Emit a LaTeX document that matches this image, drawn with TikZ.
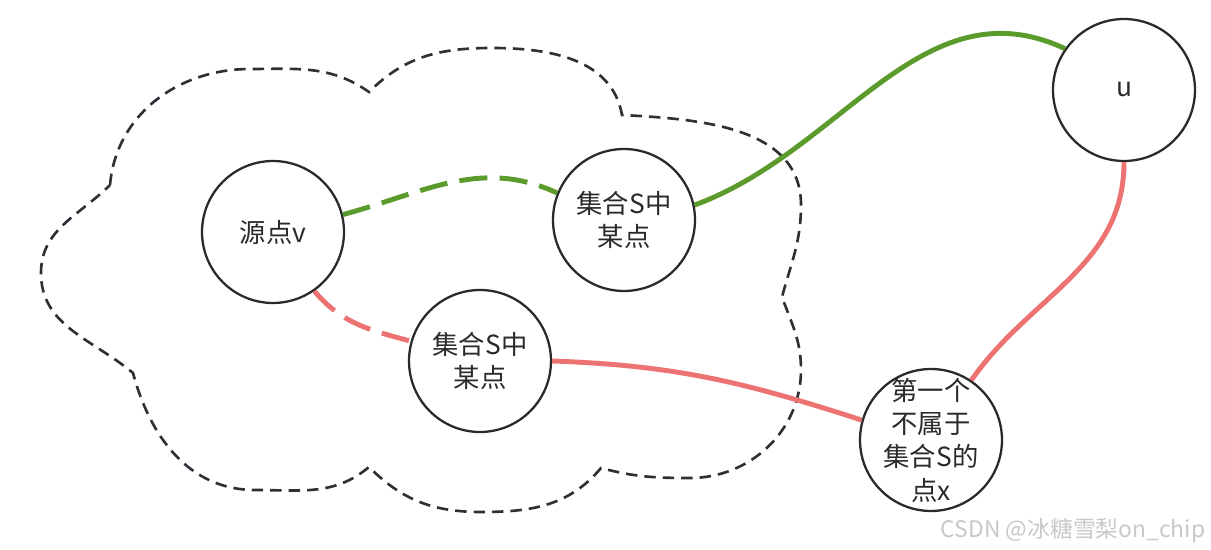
\documentclass[tikz,border=0pt]{standalone}
\usepackage{fontspec}
\newfontfamily\cjk{Noto Sans CJK SC}
\definecolor{edgegreen}{HTML}{5A9B2B}
\definecolor{edgered}{HTML}{EC7372}
\definecolor{inkgray}{HTML}{2A2A2A}
\definecolor{cloudgray}{HTML}{2C3136}
\definecolor{markgray}{HTML}{C8C8C8}
\tikzset{
  vertex/.style={circle, draw=inkgray, line width=1.3pt, minimum size=2.84cm,
    inner sep=1pt, align=center, text=inkgray, font=\cjk\fontsize{15}{19}\selectfont},
  greenpath/.style={draw=edgegreen, line width=2.8pt},
  redpath/.style={draw=edgered, line width=2.8pt},
  longdash/.style={dash pattern=on 16pt off 7pt},
}

\begin{document}
\begin{tikzpicture}[x=0.02cm, y=0.02cm]
    \useasboundingbox (0,0) rectangle (1211,-550);

    % Coordinates for the notches of the cloud (the set S)
    \coordinate (J1) at (110,-185);
    \coordinate (J2) at (369,-92);
    \coordinate (J3) at (622,-115);
    \coordinate (J4) at (782,-297);
    \coordinate (J5) at (601,-468);
    \coordinate (J6) at (369,-467);
    \coordinate (J7) at (133,-373);

    % Outer points of the bumps
    \coordinate (A1) at (250,-69);
    \coordinate (A2) at (492,-48);
    \coordinate (A3) at (801,-205);
    \coordinate (A4) at (801,-370);
    \coordinate (B4) at (690,-478);
    \coordinate (A5) at (481,-512);
    \coordinate (A6) at (255,-490);
    \coordinate (A7) at (41,-273);

    % Draw the dashed outline of the cloud
    \draw[draw=cloudgray, line width=1.5pt, dash pattern=on 6.5pt off 4pt]
      (J1) to[out=85,in=180] (A1) to[out=0,in=145] (J2)
      to[out=45,in=180] (A2) to[out=0,in=100] (J3)
      to[out=-3,in=90] (A3) to[out=-90,in=75] (J4)
      to[out=-70,in=90] (A4) to[out=-90,in=0] (B4) to[out=180,in=-15] (J5)
      to[out=-130,in=0] (A5) to[out=180,in=-45] (J6)
      to[out=-140,in=0] (A6) to[out=180,in=-75] (J7)
      to[out=140,in=-90] (A7) to[out=90,in=-135] (J1);

    % Vertices
    \node[vertex] (v) at (273,-232) {源点v};
    \node[vertex] (s1) at (624,-220) {集合S中\\某点};
    \node[vertex] (s2) at (480,-361) {集合S中\\某点};
    \node[vertex] (u) at (1124,-90) {u};
    \node[vertex, inner sep=-4pt] (x) at (931,-440) {第一个\\不属于\\集合S的\\点x};

    % Paths through S and out of it
    \draw[greenpath, longdash] (v.14) to[out=15,in=155] (s1.158);
    \draw[greenpath] (s1.12) to[out=20,in=155] (u.145);
    \draw[redpath, longdash] (v.-55) to[out=-50,in=165] (s2.164);
    \draw[redpath] (s2.0) to[out=-2,in=162] (x.164);
    \draw[redpath] (u.-90) to[out=-90,in=55] (x.56);

    \node[text=markgray, font=\cjk\fontsize{13}{15}\selectfont] (mark) at (1073,-530) {CSDN @冰糖雪梨on\_chip};
\end{tikzpicture}
\end{document}
